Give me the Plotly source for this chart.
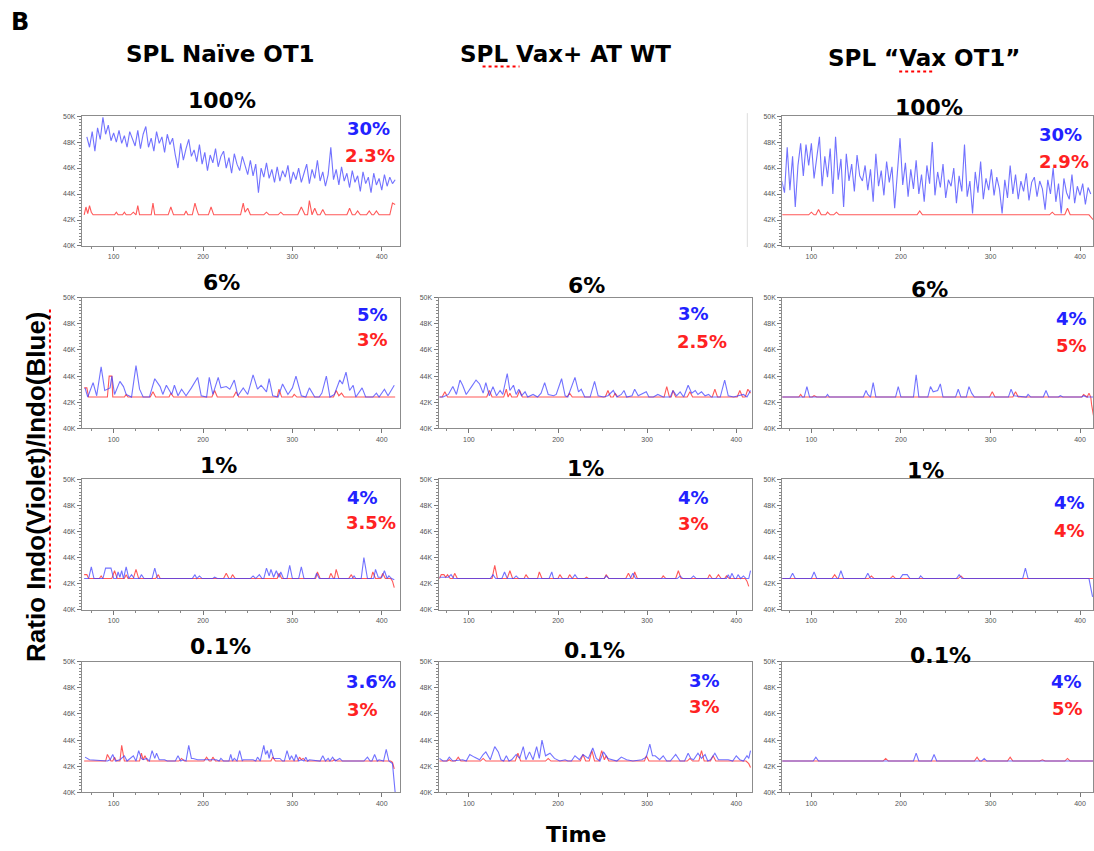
import plotly.graph_objects as go

W, H = 1094, 851

# ---------------- DATA (ratio values in thousands, time in s) ----------------
TIME_C1_DENSE = list(range(70, 416, 3))
R1C1_BLUE = [48.4, 47.6, 48.8, 47.3, 49.1, 48.2, 49.9, 48.6, 49.3, 48.1, 48.7,
             48.0, 48.9, 47.9, 48.5, 47.6, 48.8, 48.2, 47.7, 48.9, 47.5,
             48.6, 49.2, 47.6, 48.3, 47.3, 48.8, 47.9, 48.4, 47.2, 48.6,
             47.8, 48.3, 47.0, 46.0, 47.9, 46.6, 47.5, 48.2, 46.9, 47.4,
             46.5, 47.8, 46.3, 47.2, 45.8, 47.0, 46.4, 47.5, 46.1, 46.9,
             47.3, 46.0, 46.8, 45.6, 47.1, 46.3, 45.8, 46.9, 46.2, 45.5,
             46.6, 45.4, 46.3, 44.1, 46.0, 45.3, 46.4, 45.2, 45.9, 44.9,
             46.1, 45.0, 45.8, 45.3, 46.2, 44.8, 45.7, 45.1, 46.0, 44.9,
             45.6, 46.3, 44.8, 45.9, 45.2, 46.6, 45.0, 45.7, 44.6, 45.5,
             47.6, 45.1, 45.9, 44.7, 46.1, 45.0, 45.6, 44.5, 45.8, 44.9,
             45.4, 44.2, 45.7, 44.8, 45.3, 44.1, 45.6, 44.7, 45.2, 44.3,
             45.5, 44.6, 45.3, 44.8, 45.1]
R1C1_RED = [(67, 42.4), (69, 43.0), (71, 42.5), (73, 43.1), (75, 42.6), (77, 42.4),
            (101, 42.4), (103, 42.6), (105, 42.4), (110, 42.4), (112, 42.6), (114, 42.4),
            (119, 42.4), (122, 42.6), (125, 42.4), (127, 43.1), (129, 42.4),
            (142, 42.4), (144, 43.3), (146, 42.4), (161, 42.4), (164, 43.0), (167, 42.4),
            (179, 42.4), (181, 42.7), (183, 42.4), (188, 42.4), (191, 43.3), (193, 42.8),
            (195, 42.4), (206, 42.4), (209, 43.0), (212, 42.4), (242, 42.4), (245, 43.3),
            (247, 42.6), (250, 42.9), (253, 42.4), (268, 42.4), (271, 42.6), (274, 42.4),
            (284, 42.4), (287, 42.6), (290, 42.4), (306, 42.4), (310, 43.0), (314, 42.4),
            (317, 42.4), (319, 43.5), (322, 42.4), (325, 42.9), (328, 42.4), (331, 42.4),
            (334, 42.8), (337, 42.4), (361, 42.4), (364, 42.9), (367, 42.4), (370, 42.4),
            (373, 42.7), (376, 42.4), (383, 42.4), (386, 42.7), (389, 42.4), (391, 42.4),
            (394, 42.7), (397, 42.4), (409, 42.4), (412, 43.3), (415, 43.2)]

TIME_C3_DENSE = list(range(67, 413, 3))
R1C3_BLUE = [45.0, 44.1, 47.6, 44.3, 46.9, 43.0, 46.2, 47.9, 45.4, 47.8,
             46.2, 47.9, 45.2, 46.6, 48.4, 44.6, 46.9, 45.3, 47.5, 44.0,
             48.4, 45.1, 46.7, 43.0, 47.1, 45.0, 46.3, 44.2, 47.0, 45.4,
             45.0, 46.2, 44.3, 45.9, 43.4, 47.1, 44.6, 45.8, 43.9, 46.5,
             44.9, 46.1, 42.9, 45.6, 48.3, 44.7, 46.4, 43.8, 45.9, 44.4,
             46.6, 44.0, 45.5, 43.4, 46.2, 44.8, 48.0, 43.9, 45.7, 44.5,
             46.3, 43.7, 45.1, 44.6, 46.0, 43.3, 45.4, 44.2, 47.8, 43.8,
             45.0, 42.5, 45.7, 44.1, 46.5, 43.6, 45.2, 44.3, 45.9, 43.9,
             45.3, 44.4, 42.5, 45.1, 43.7, 46.2, 44.0, 45.5, 43.6, 45.0,
             44.2, 45.6, 43.5, 44.9, 45.3, 43.8, 45.0, 44.4, 42.8, 45.1,
             44.0, 46.0, 43.4, 44.8, 42.5, 45.2, 44.1, 43.6, 45.5, 43.3,
             44.6, 43.9, 44.8, 43.2, 44.5, 44.0]
R1C3_RED = [(66, 42.4), (97, 42.4), (100, 42.6), (103, 42.4), (105, 42.4), (108, 42.8),
            (111, 42.4), (116, 42.4), (118, 42.6), (121, 42.4), (125, 42.4), (128, 42.6),
            (131, 42.4), (218, 42.4), (221, 42.7), (224, 42.4), (366, 42.4), (369, 42.6),
            (372, 42.4), (383, 42.4), (386, 42.9), (389, 42.4), (410, 42.4), (413, 42.1),
            (415, 42.0)]

R2C1_BLUE = [(68, 43.1), (71, 42.4), (77, 43.5), (81, 42.5), (86, 44.7), (90, 42.9), (96, 43.1),
             (98, 44.0), (101, 42.6), (107, 43.6), (111, 43.2), (114, 42.6), (120, 42.4),
             (125, 44.8), (129, 43.0), (133, 42.4), (140, 42.4), (146, 43.8), (152, 43.2),
             (155, 42.6), (159, 43.3), (165, 42.6), (168, 43.3), (172, 42.5), (176, 43.0),
             (181, 42.5), (187, 43.1), (194, 43.9), (198, 42.5), (204, 42.4), (207, 43.9),
             (211, 42.6), (217, 43.9), (220, 43.1), (226, 43.2), (230, 43.0), (235, 43.7),
             (239, 42.5), (245, 43.1), (250, 42.6), (256, 44.1), (261, 43.0), (265, 43.3),
             (271, 42.8), (274, 43.8), (278, 42.5), (284, 42.4), (289, 43.4), (295, 42.6),
             (300, 43.1), (304, 44.0), (310, 42.5), (315, 42.4), (319, 43.1), (325, 42.4),
             (330, 42.4), (333, 42.7), (338, 44.0), (342, 42.4), (347, 42.6), (353, 43.7),
             (356, 43.4), (360, 44.3), (364, 42.9), (368, 43.3), (371, 42.4), (378, 43.1),
             (382, 42.4), (390, 42.4), (394, 42.7), (397, 42.4), (403, 43.0), (407, 42.5),
             (414, 43.3)]
R2C1_RED = [(67, 43.1), (70, 43.1), (72, 42.4), (93, 42.4), (95, 44.0), (98, 44.0), (99, 42.4),
            (112, 42.4), (114, 42.6), (116, 42.4), (141, 42.4), (144, 42.8), (147, 42.4),
            (162, 42.4), (164, 42.7), (167, 42.4), (210, 42.4), (213, 42.9), (216, 42.4),
            (234, 42.4), (237, 42.8), (240, 42.4), (283, 42.4), (285, 43.0), (288, 42.4),
            (300, 42.4), (302, 42.6), (305, 42.4), (346, 42.4), (349, 42.9), (352, 42.5),
            (355, 42.7), (358, 42.4), (415, 42.4)]

R2C2_BLUE = [(67, 42.4), (71, 42.4), (77, 42.6), (82, 43.2), (86, 42.6), (90, 43.7), (93, 43.3),
             (97, 42.6), (103, 43.2), (108, 43.7), (112, 43.4), (116, 42.7), (119, 43.5),
             (123, 42.5), (127, 43.2), (131, 42.5), (135, 42.9), (138, 42.6), (143, 44.2),
             (146, 42.9), (150, 43.3), (153, 42.6), (156, 43.0), (159, 42.5), (163, 42.8),
             (166, 42.4), (172, 42.6), (177, 42.4), (181, 42.7), (185, 43.5), (189, 42.6),
             (195, 42.5), (198, 42.6), (204, 43.8), (208, 42.5), (211, 42.4), (219, 43.9),
             (223, 42.8), (226, 43.0), (230, 42.4), (236, 42.4), (241, 43.6), (245, 42.5),
             (251, 42.4), (256, 42.5), (262, 42.9), (266, 42.4), (271, 42.6), (274, 42.9),
             (277, 42.4), (283, 42.5), (286, 43.0), (290, 42.5), (299, 42.8), (302, 42.4),
             (307, 42.4), (312, 42.6), (318, 42.4), (326, 42.4), (329, 42.9), (333, 42.5),
             (337, 42.8), (341, 42.4), (346, 43.3), (350, 42.7), (354, 42.9), (357, 42.6),
             (361, 42.8), (365, 42.5), (369, 42.6), (372, 42.4), (382, 42.4), (387, 43.7),
             (391, 42.5), (397, 42.4), (402, 42.5), (408, 42.6), (412, 42.4), (416, 42.9)]
R2C2_RED = [(67, 42.4), (70, 42.4), (73, 42.8), (76, 42.4), (120, 42.4), (123, 42.9), (126, 42.4),
            (139, 42.4), (142, 43.0), (144, 42.4), (146, 42.7), (148, 42.4), (154, 42.4),
            (157, 42.9), (160, 42.4), (210, 42.4), (213, 42.7), (216, 42.4), (253, 42.4),
            (256, 42.9), (259, 42.4), (262, 42.4), (264, 42.7), (267, 42.4), (319, 42.4),
            (322, 43.2), (325, 42.4), (327, 42.4), (329, 42.9), (332, 42.4), (345, 42.4),
            (348, 42.8), (351, 42.4), (373, 42.4), (376, 43.0), (379, 42.4), (401, 42.4),
            (404, 42.9), (407, 42.4), (410, 42.4), (413, 43.0), (416, 42.7)]

R2C3_BLUE = [(67, 42.4), (92, 42.4), (95, 43.2), (98, 42.4), (116, 42.4), (118, 42.6), (120, 42.4),
             (158, 42.4), (161, 42.9), (163, 42.6), (166, 42.4), (169, 43.5), (172, 42.4),
             (194, 42.4), (197, 43.2), (200, 42.4), (214, 42.4), (217, 44.1), (220, 42.4),
             (230, 42.4), (233, 43.2), (236, 42.8), (241, 42.9), (244, 43.4), (247, 42.4),
             (261, 42.4), (264, 43.0), (267, 42.4), (273, 42.4), (276, 43.2), (279, 42.7),
             (282, 42.4), (320, 42.4), (323, 43.0), (326, 42.5), (340, 42.4), (342, 42.6),
             (345, 42.4), (359, 42.4), (362, 42.9), (365, 42.4), (376, 42.4), (378, 42.5),
             (381, 42.4), (402, 42.4), (404, 42.5), (407, 42.4), (415, 42.4)]
R2C3_RED = [(67, 42.4), (86, 42.4), (88, 42.6), (90, 42.4), (101, 42.4), (103, 42.5), (106, 42.4),
            (299, 42.4), (302, 42.8), (305, 42.4), (325, 42.4), (328, 42.8), (331, 42.4),
            (402, 42.4), (404, 42.6), (407, 42.4), (408, 42.4), (410, 42.7), (412, 42.4),
            (413, 41.8), (415, 41.0)]

R3C1_BLUE = [(67, 42.4), (72, 42.4), (75, 43.3), (78, 42.4), (88, 42.4), (91, 43.2), (97, 43.2),
             (100, 42.4), (103, 42.4), (105, 42.9), (107, 42.5), (109, 43.0), (111, 42.4),
             (114, 43.3), (117, 42.4), (120, 42.7), (123, 42.4), (129, 42.4), (131, 42.7),
             (134, 42.4), (143, 42.4), (146, 43.2), (149, 42.4), (188, 42.4), (191, 42.7),
             (193, 42.4), (196, 42.6), (199, 42.4), (211, 42.4), (213, 42.5), (216, 42.4),
             (253, 42.4), (256, 42.6), (259, 42.4), (263, 42.7), (266, 42.4), (268, 42.4),
             (271, 43.2), (274, 42.6), (276, 43.1), (279, 42.5), (282, 43.0), (285, 42.5),
             (287, 42.9), (290, 42.4), (294, 42.4), (297, 43.4), (300, 42.4), (307, 42.4),
             (310, 43.3), (313, 42.4), (325, 42.4), (327, 42.8), (330, 42.4), (367, 42.4),
             (369, 42.6), (371, 42.4), (377, 42.4), (380, 44.0), (384, 42.4), (391, 42.4),
             (393, 43.1), (396, 42.5), (400, 42.5), (403, 43.0), (406, 42.4), (408, 42.6),
             (411, 42.4), (414, 42.3)]
R3C1_RED = [(67, 42.7), (70, 42.7), (72, 42.4), (84, 42.4), (86, 42.6), (88, 42.4), (98, 42.4),
            (101, 43.0), (104, 42.4), (112, 42.4), (114, 42.7), (116, 42.4), (122, 42.4),
            (125, 43.1), (128, 42.4), (147, 42.4), (150, 42.7), (152, 42.4), (223, 42.4),
            (226, 42.8), (229, 42.4), (231, 42.4), (233, 42.7), (236, 42.4), (283, 42.4),
            (285, 42.8), (288, 42.4), (326, 42.4), (328, 42.9), (331, 42.4), (341, 42.4),
            (343, 42.8), (346, 42.4), (347, 42.4), (349, 43.1), (352, 42.4), (363, 42.4),
            (366, 42.7), (368, 42.4), (388, 42.4), (390, 42.9), (393, 42.4), (399, 42.4),
            (401, 42.8), (404, 42.4), (410, 42.4), (412, 42.2), (414, 41.7)]

R3C2_BLUE = [(67, 42.5), (77, 42.5), (80, 42.7), (83, 42.4), (124, 42.4), (127, 42.7), (130, 42.4),
             (137, 42.4), (140, 42.9), (143, 42.4), (150, 42.4), (153, 42.6), (156, 42.4),
             (190, 42.4), (193, 42.9), (195, 42.4), (216, 42.4), (219, 42.7), (222, 42.4),
             (252, 42.4), (254, 42.6), (257, 42.4), (281, 42.4), (284, 42.8), (287, 42.4),
             (334, 42.4), (337, 42.6), (340, 42.4), (349, 42.4), (352, 42.6), (355, 42.4),
             (389, 42.4), (391, 42.7), (393, 42.4), (395, 42.8), (398, 42.4), (400, 42.4),
             (402, 42.7), (405, 42.4), (408, 42.6), (411, 42.4), (414, 42.4), (416, 43.0)]
R3C2_RED = [(67, 42.4), (69, 42.7), (72, 42.7), (74, 42.5), (76, 42.7), (79, 42.4), (82, 42.4),
            (84, 42.8), (87, 42.4), (126, 42.4), (129, 43.4), (132, 42.4), (143, 42.4),
            (146, 43.0), (149, 42.4), (162, 42.4), (164, 42.7), (167, 42.4), (177, 42.4),
            (179, 42.9), (182, 42.4), (200, 42.4), (202, 42.7), (205, 42.4), (211, 42.4),
            (213, 42.7), (216, 42.4), (230, 42.4), (232, 42.5), (234, 42.4), (252, 42.4),
            (254, 42.7), (257, 42.4), (276, 42.4), (279, 42.8), (282, 42.4), (284, 42.4),
            (286, 42.9), (289, 42.4), (316, 42.4), (318, 42.6), (321, 42.4), (332, 42.4),
            (335, 43.0), (338, 42.4), (368, 42.4), (370, 42.7), (373, 42.4), (377, 42.4),
            (380, 42.7), (383, 42.4), (387, 42.4), (389, 42.6), (392, 42.4), (410, 42.4),
            (412, 42.2), (414, 41.8)]

R3C3_BLUE = [(67, 42.4), (76, 42.4), (79, 42.8), (82, 42.4), (100, 42.4), (103, 42.9), (106, 42.4),
             (130, 42.4), (133, 43.0), (136, 42.4), (160, 42.4), (163, 42.8), (166, 42.4),
             (199, 42.4), (202, 42.7), (207, 42.7), (210, 42.4), (220, 42.4), (222, 42.6),
             (225, 42.4), (262, 42.4), (265, 42.7), (268, 42.4), (336, 42.4), (339, 43.2),
             (342, 42.4), (410, 42.4), (412, 41.8), (414, 41.0)]
R3C3_RED = [(67, 42.4), (123, 42.4), (126, 42.7), (129, 42.4), (164, 42.4), (167, 42.6), (170, 42.4),
            (188, 42.4), (191, 42.6), (194, 42.4), (264, 42.4), (267, 42.6), (270, 42.4),
            (415, 42.4)]

R4C1_BLUE = [(68, 42.7), (71, 42.6), (73, 42.5), (93, 42.4), (96, 42.5), (99, 42.9), (102, 42.4),
             (107, 42.5), (112, 42.8), (115, 42.4), (118, 42.6), (122, 42.8), (125, 42.4),
             (128, 43.2), (131, 42.6), (133, 42.5), (137, 42.6), (140, 42.4), (143, 43.2),
             (146, 42.6), (148, 43.0), (151, 42.5), (157, 42.5), (160, 42.4), (169, 42.4),
             (172, 42.8), (175, 42.4), (178, 42.5), (181, 42.4), (184, 43.6), (187, 42.6),
             (189, 42.6), (194, 42.5), (215, 42.5), (218, 42.4), (220, 42.6), (223, 42.4),
             (229, 42.4), (231, 42.9), (233, 42.4), (235, 42.6), (238, 42.4), (241, 43.2),
             (244, 42.4), (245, 42.5), (256, 42.5), (259, 42.4), (261, 42.7), (264, 42.4),
             (268, 43.6), (270, 42.9), (272, 43.2), (274, 42.6), (276, 43.3), (279, 42.6),
             (286, 42.6), (289, 42.4), (291, 42.4), (294, 43.2), (297, 42.5), (299, 42.8),
             (302, 42.4), (304, 42.9), (307, 42.4), (310, 42.5), (313, 42.4), (315, 42.7),
             (317, 42.4), (319, 42.5), (331, 42.4), (334, 42.8), (337, 42.4), (340, 42.6),
             (342, 42.4), (345, 42.7), (348, 42.4), (353, 42.6), (356, 42.4), (380, 42.4),
             (384, 42.7), (387, 42.4), (389, 42.4), (392, 42.9), (395, 42.4), (397, 42.5),
             (402, 42.4), (405, 43.3), (408, 42.4), (412, 42.2), (415, 40.0)]
R4C1_RED = [(67, 42.4), (91, 42.4), (93, 42.9), (95, 42.6), (97, 42.4), (99, 42.4), (101, 42.7),
            (103, 42.4), (107, 42.4), (109, 43.6), (112, 42.4), (129, 42.4), (131, 43.0),
            (133, 42.5), (135, 42.8), (138, 42.4), (173, 42.4), (176, 42.6), (179, 42.4),
            (201, 42.4), (204, 42.7), (207, 42.4), (209, 42.4), (211, 42.7), (214, 42.4),
            (276, 42.4), (278, 42.7), (281, 42.4), (306, 42.4), (308, 42.7), (310, 42.5),
            (312, 42.6), (315, 42.4), (345, 42.4), (347, 42.5), (350, 42.4), (410, 42.4),
            (412, 42.3), (414, 41.8)]

R4C2_BLUE = [(67, 42.6), (71, 42.4), (75, 42.4), (78, 42.7), (82, 42.4), (93, 42.5), (97, 42.4),
             (101, 42.9), (106, 42.7), (112, 42.5), (116, 42.9), (119, 43.1), (124, 42.5),
             (129, 43.5), (133, 43.1), (136, 42.5), (139, 42.4), (142, 42.8), (145, 42.4),
             (148, 42.5), (153, 42.9), (157, 42.6), (161, 43.5), (164, 42.5), (168, 43.1),
             (172, 42.5), (176, 43.5), (179, 42.6), (182, 44.0), (186, 42.8), (191, 43.0),
             (196, 42.6), (202, 42.4), (208, 42.5), (211, 42.4), (215, 42.4), (219, 42.8),
             (224, 42.5), (228, 42.9), (234, 42.6), (239, 43.4), (243, 42.6), (247, 42.4),
             (251, 43.1), (256, 42.6), (262, 42.5), (266, 42.4), (271, 42.7), (277, 42.5),
             (284, 42.4), (294, 42.5), (299, 42.7), (303, 43.7), (306, 42.8), (309, 42.8),
             (314, 42.5), (318, 42.8), (322, 42.4), (326, 42.4), (332, 42.9), (337, 42.4),
             (342, 42.4), (346, 43.0), (349, 42.6), (352, 42.5), (357, 43.0), (361, 42.6),
             (365, 42.9), (368, 42.4), (371, 42.5), (376, 43.0), (380, 42.5), (391, 42.5),
             (396, 42.4), (400, 42.8), (404, 42.5), (408, 42.4), (412, 42.8), (414, 42.6),
             (416, 43.2)]
R4C2_RED = [(67, 42.4), (76, 42.4), (78, 42.5), (80, 42.4), (85, 42.4), (88, 42.7), (91, 42.4),
            (113, 42.4), (116, 42.6), (119, 42.4), (152, 42.4), (155, 43.0), (158, 42.4),
            (186, 42.4), (189, 42.6), (192, 42.4), (225, 42.4), (228, 42.9), (231, 42.4),
            (235, 42.4), (238, 43.2), (241, 42.4), (246, 42.4), (249, 43.2), (252, 42.5),
            (254, 42.8), (257, 42.4), (297, 42.4), (299, 42.8), (302, 42.4), (345, 42.4),
            (348, 42.6), (351, 42.4), (358, 42.4), (361, 43.2), (364, 42.4), (371, 42.4),
            (374, 42.8), (377, 42.4), (411, 42.4), (414, 42.2), (416, 41.9)]

R4C3_BLUE = [(67, 42.4), (102, 42.4), (105, 42.7), (108, 42.4), (214, 42.4), (217, 43.0), (220, 42.4),
             (234, 42.4), (237, 42.9), (240, 42.4), (290, 42.4), (293, 42.6), (296, 42.4),
             (415, 42.4)]
R4C3_RED = [(67, 42.4), (180, 42.4), (183, 42.6), (186, 42.4), (282, 42.4), (285, 42.7), (288, 42.4),
            (319, 42.4), (322, 42.7), (325, 42.4), (355, 42.4), (358, 42.5), (361, 42.4),
            (383, 42.4), (386, 42.6), (389, 42.4), (415, 42.4)]

COLUMN_TITLES = ["SPL Naïve OT1", "SPL Vax+ AT WT", "SPL “Vax OT1”"]
Y_TICKS = [40, 42, 44, 46, 48, 50]
Y_TICK_TEXT = ["40K", "42K", "44K", "46K", "48K", "50K"]
X_TICKS = [100, 200, 300, 400]

# (row, col, title, blue, red, blue %, red %)
PANELS = [
    (1, 1, "100%", (TIME_C1_DENSE, R1C1_BLUE), R1C1_RED, "30%", "2.3%"),
    (1, 3, "100%", (TIME_C3_DENSE, R1C3_BLUE), R1C3_RED, "30%", "2.9%"),
    (2, 1, "6%", R2C1_BLUE, R2C1_RED, "5%", "3%"),
    (2, 2, "6%", R2C2_BLUE, R2C2_RED, "3%", "2.5%"),
    (2, 3, "6%", R2C3_BLUE, R2C3_RED, "4%", "5%"),
    (3, 1, "1%", R3C1_BLUE, R3C1_RED, "4%", "3.5%"),
    (3, 2, "1%", R3C2_BLUE, R3C2_RED, "4%", "3%"),
    (3, 3, "1%", R3C3_BLUE, R3C3_RED, "4%", "4%"),
    (4, 1, "0.1%", R4C1_BLUE, R4C1_RED, "3.6%", "3%"),
    (4, 2, "0.1%", R4C2_BLUE, R4C2_RED, "3%", "3%"),
    (4, 3, "0.1%", R4C3_BLUE, R4C3_RED, "4%", "5%"),
]

# ---------------- LAYOUT (pixel geometry) ----------------
COL_PX = {1: (82, 400), 2: (439, 753), 3: (783, 1094)}
ROW_PX = {1: (113, 244), 2: (296, 428), 3: (479, 611), 4: (663, 795)}
X_RANGE = {1: (64.5, 420), 2: (66, 418), 3: (67.5, 414.5)}
TITLE_POS = {(1, 1): (222, 97), (1, 3): (930, 104), (2, 1): (222, 281), (2, 2): (587, 284),
             (2, 3): (930, 288), (3, 1): (219, 465), (3, 2): (586, 468), (3, 3): (926, 470),
             (4, 1): (221, 648), (4, 2): (595, 652), (4, 3): (941, 657)}
PCT_POS = {(1, 1): (392, 126, 397, 153), (1, 3): (1085, 132, 1092, 159),
           (2, 1): (390, 313, 390, 338), (2, 2): (712, 312, 730, 340),
           (2, 3): (1090, 317, 1090, 344), (3, 1): (380, 498, 398, 523),
           (3, 2): (712, 498, 712, 524), (3, 3): (1088, 503, 1088, 531),
           (4, 1): (398, 683, 380, 711), (4, 2): (723, 682, 723, 708),
           (4, 3): (1085, 683, 1086, 710)}

FONT = "Liberation Sans, Arial, sans-serif"
WIDE = "DejaVu Sans, Verdana, sans-serif"
BLUE = "rgb(60,60,255)"
RED = "rgb(255,60,60)"


def px_x(p):
    return p / W


def px_y(p):
    return 1 - p / H


fig = go.Figure()
annotations = []
for i, (r, c, title, blue, red, bp, rp) in enumerate(PANELS, start=1):
    sfx = "" if i == 1 else str(i)
    xa, ya = "x" + sfx, "y" + sfx
    if isinstance(blue, tuple):
        bx, by = blue
    else:
        bx, by = [p[0] for p in blue], [p[1] for p in blue]
    rx, ry = [p[0] for p in red], [p[1] for p in red]
    fig.add_trace(go.Scatter(x=rx, y=ry, mode="lines", line=dict(color=RED, width=1.1),
                             opacity=0.85, xaxis=xa, yaxis=ya, showlegend=False, hoverinfo="skip"))
    fig.add_trace(go.Scatter(x=bx, y=by, mode="lines", line=dict(color=BLUE, width=1.1),
                             opacity=0.72, xaxis=xa, yaxis=ya, showlegend=False, hoverinfo="skip"))
    x0, x1 = COL_PX[c]
    y0, y1 = ROW_PX[r]
    common = dict(showline=True, linecolor="#8c8c8c", linewidth=1, mirror=True,
                  ticks="outside", tickcolor="#777", showgrid=False, zeroline=False,
                  tickfont=dict(family=FONT, size=7, color="#555"))
    fig.layout["xaxis" + sfx] = dict(
        domain=[px_x(x0), min(1.0, px_x(x1))], range=list(X_RANGE[c]), anchor=ya,
        tickvals=X_TICKS, ticklen=4,
        minor=dict(dtick=25, tick0=0, ticklen=2, ticks="outside", tickcolor="#888"),
        **common)
    fig.layout["yaxis" + sfx] = dict(
        domain=[px_y(y1), px_y(y0)], range=[40, 50], anchor=xa,
        tickvals=Y_TICKS, ticktext=Y_TICK_TEXT, ticklen=4,
        minor=dict(dtick=0.25, tick0=40, ticklen=2, ticks="outside", tickcolor="#888"),
        **common)
    tx, ty = TITLE_POS[(r, c)]
    annotations.append(dict(text="<b>%s</b>" % title, x=px_x(tx), y=px_y(ty), xref="paper",
                            yref="paper", showarrow=False, xanchor="center", yanchor="middle",
                            font=dict(family=WIDE, size=22, color="black")))
    bxp, byp, rxp, ryp = PCT_POS[(r, c)]
    annotations.append(dict(text="<b>%s</b>" % bp, x=px_x(bxp), y=px_y(byp), xref="paper",
                            yref="paper", showarrow=False, xanchor="right", yanchor="middle",
                            font=dict(family=WIDE, size=18, color="#2222ff")))
    annotations.append(dict(text="<b>%s</b>" % rp, x=px_x(rxp), y=px_y(ryp), xref="paper",
                            yref="paper", showarrow=False, xanchor="right", yanchor="middle",
                            font=dict(family=WIDE, size=18, color="#ff2222")))

for txt, (cx, cy) in zip(COLUMN_TITLES, [(221, 50), (566, 50), (925, 54)]):
    annotations.append(dict(text="<b>%s</b>" % txt, x=px_x(cx), y=px_y(cy), xref="paper",
                            yref="paper", showarrow=False, xanchor="center", yanchor="middle",
                            font=dict(family=WIDE, size=23, color="black")))
annotations.append(dict(text="<b>B</b>", x=px_x(20), y=px_y(18), xref="paper", yref="paper",
                        showarrow=False, xanchor="center", yanchor="middle",
                        font=dict(family=WIDE, size=24, color="black")))
annotations.append(dict(text="<b>Time</b>", x=px_x(577), y=px_y(837), xref="paper", yref="paper",
                        showarrow=False, xanchor="center", yanchor="middle",
                        font=dict(family=WIDE, size=22, color="black")))
annotations.append(dict(text="<b>Ratio Indo(Violet)/Indo(Blue)</b>", x=px_x(36), y=px_y(487),
                        xref="paper", yref="paper", showarrow=False, textangle=-90,
                        xanchor="center", yanchor="middle",
                        font=dict(family=FONT, size=26, color="black")))

shapes = [
    dict(type="line", xref="paper", yref="paper", x0=px_x(50), x1=px_x(50), y0=px_y(308),
         y1=px_y(592), line=dict(color="red", width=2, dash="dot")),
    dict(type="line", xref="paper", yref="paper", x0=px_x(483), x1=px_x(520), y0=px_y(63),
         y1=px_y(63), line=dict(color="red", width=2, dash="dot")),
    dict(type="line", xref="paper", yref="paper", x0=px_x(900), x1=px_x(936), y0=px_y(68),
         y1=px_y(68), line=dict(color="red", width=2, dash="dot")),
    dict(type="line", xref="paper", yref="paper", x0=px_x(748), x1=px_x(748), y0=px_y(110),
         y1=px_y(245), line=dict(color="#dddddd", width=1)),
]

fig.update_layout(width=W, height=H, margin=dict(l=0, r=0, t=0, b=0),
                  paper_bgcolor="white", plot_bgcolor="white",
                  annotations=annotations, shapes=shapes)
fig.write_html("out.html")
